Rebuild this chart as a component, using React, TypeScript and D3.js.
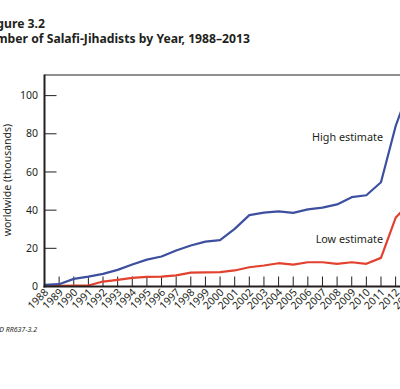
import React from "react";
import * as d3 from "d3";

const years: number[] = [1988, 1989, 1990, 1991, 1992, 1993, 1994, 1995, 1996, 1997, 1998, 1999, 2000, 2001, 2002, 2003, 2004, 2005, 2006, 2007, 2008, 2009, 2010, 2011, 2012, 2013];
const highEstimate: number[] = [0.8, 1.2, 4, 5.2, 6.6, 8.7, 11.5, 14.1, 15.7, 18.9, 21.5, 23.5, 24.3, 30.2, 37.4, 38.7, 39.4, 38.6, 40.4, 41.3, 43, 46.8, 47.8, 54.6, 84, 105];
const lowEstimate: number[] = [0.3, 0.3, 0.5, 0.5, 2.6, 3.5, 4.5, 5, 5.2, 5.8, 7.3, 7.4, 7.5, 8.4, 10.1, 11, 12.2, 11.5, 12.7, 12.7, 11.9, 12.7, 11.9, 15, 36, 44];
const yTicks: number[] = [0, 20, 40, 60, 80, 100];
const titleLine1 = "Figure 3.2";
const titleLine2 = "Number of Salafi-Jihadists by Year, 1988–2013";
const yLabel = "worldwide (thousands)";
const highLabel = "High estimate";
const lowLabel = "Low estimate";
const sourceNote = "RAND RR637-3.2";

const W = 400;
const H = 389;
const FONT = "'Noto Sans', 'Open Sans', sans-serif";
const BLUE = "#3d4f9f";
const RED = "#e2412f";
const INK = "#231f20";

export default function App() {
  const left = 44.5;
  const step = 14.63;
  const x = d3
    .scaleLinear()
    .domain([1988, 2013])
    .range([left, left + step * 25]);
  const y = d3.scaleLinear().domain([0, 110.8]).range([286.5, 75]);

  const line = d3
    .line<number>()
    .x((_, i) => x(years[i]))
    .y((d) => y(d));

  const plotRight = x(2013) + 12;

  return (
    <svg
      width={W}
      height={H}
      style={{ position: "absolute", left: 0, top: 0, background: "#fff" }}
      fontFamily={FONT}
    >
      <rect x={0} y={0} width={W} height={H} fill="#fff" />
      {/* title */}
      <text x={45} y={27.5} textAnchor="end" fontSize={12.2} fontWeight={700} fill={INK}>
        {titleLine1}
      </text>
      <text x={250} y={43} textAnchor="end" fontSize={12.2} fontWeight={700} fill={INK}>
        {titleLine2}
      </text>

      {/* y label */}
      <text
        transform={`translate(11,180) rotate(-90)`}
        textAnchor="middle"
        fontSize={10.5}
        fill={INK}
      >
        {yLabel}
      </text>

      {/* frame top */}
      <line x1={left} x2={plotRight} y1={75} y2={75} stroke={INK} strokeWidth={1} />

      {/* y ticks */}
      {yTicks.map((t) => (
        <g key={t}>
          {t > 0 && (
            <line x1={left} x2={left + 12} y1={y(t)} y2={y(t)} stroke={INK} strokeWidth={1} />
          )}
          <text x={38} y={y(t)} dy="0.35em" textAnchor="end" fontSize={10.5} fill={INK}>
            {t}
          </text>
        </g>
      ))}

      {/* x ticks */}
      {years.map((yr) => (
        <g key={yr}>
          {yr > 1988 && (
            <line x1={x(yr)} x2={x(yr)} y1={286.5} y2={276.5} stroke={INK} strokeWidth={1} />
          )}
          <text
            transform={`translate(${x(yr) + 4.5},${293}) rotate(-45)`}
            textAnchor="end"
            fontSize={10.5}
            fill={INK}
          >
            {yr}
          </text>
        </g>
      ))}

      {/* lines */}
      <path d={line(lowEstimate) || ""} fill="none" stroke={RED} strokeWidth={2.2} strokeLinejoin="round" />
      <path d={line(highEstimate) || ""} fill="none" stroke={BLUE} strokeWidth={2.2} strokeLinejoin="round" />

      {/* axes */}
      <line x1={left} x2={left} y1={74.5} y2={287.5} stroke={INK} strokeWidth={2} />
      <line x1={left - 1} x2={plotRight} y1={286.5} y2={286.5} stroke={INK} strokeWidth={2} />

      {/* annotations */}
      <text x={383} y={141} textAnchor="end" fontSize={10.8} fill={INK}>
        {highLabel}
      </text>
      <text x={383} y={243} textAnchor="end" fontSize={10.8} fill={INK}>
        {lowLabel}
      </text>

      {/* source */}
      <text x={37} y={332} textAnchor="end" fontSize={7} fontStyle="italic" fill={INK}>
        {sourceNote}
      </text>
    </svg>
  );
}
